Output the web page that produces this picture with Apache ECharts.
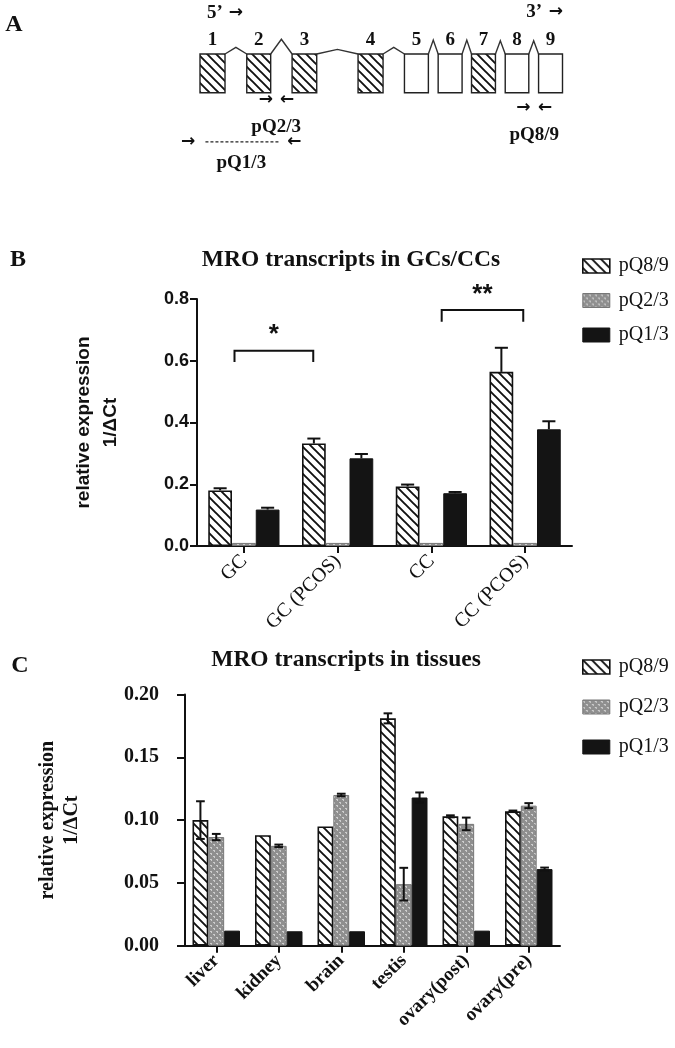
<!DOCTYPE html>
<html><head><meta charset="utf-8">
<script src="https://cdn.jsdelivr.net/npm/echarts@6/dist/echarts.min.js"></script>
<style>html,body{margin:0;padding:0;background:#fff}#c{width:675px;height:1048px}</style>
</head><body><div id="c"></div>
<script>
// ---------- Panel A: gene diagram (diagram units: x 0-100, exon box y 0-10) ----------
const exonNumbers = ['1','2','3','4','5','6','7','8','9'];
const exonStart = [0, 12.9, 25.4, 43.6, 56.4, 65.7, 74.9, 84.2, 93.4];
const exonWidth = [6.9, 6.6, 6.8, 6.9, 6.6, 6.6, 6.6, 6.5, 6.6];
const exonHatched = [1, 1, 1, 1, 0, 0, 1, 0, 0];
const intronPeak = [1.7, 3.8, 1.2, 1.7, 3.6, 3.6, 3.4, 3.4];

// ---------- Panel B ----------
const seriesNames = ['pQ8/9', 'pQ2/3', 'pQ1/3'];
const bCategories = ['GC', 'GC (PCOS)', 'CC', 'CC (PCOS)'];
const bPQ89 = [0.180, 0.332, 0.193, 0.564];
const bPQ23 = [0.010, 0.010, 0.010, 0.010];
const bPQ13 = [0.118, 0.284, 0.171, 0.378];
const bErr89 = [0.007, 0.016, 0.006, 0.078];
const bErr23 = [0, 0, 0, 0];
const bErr13 = [0.006, 0.014, 0.004, 0.026];
const bTicks = [0, 0.2, 0.4, 0.6, 0.8];

// ---------- Panel C ----------
const cCategories = ['liver', 'kidney', 'brain', 'testis', 'ovary(post)', 'ovary(pre)'];
const cPQ89 = [0.100, 0.088, 0.095, 0.181, 0.103, 0.107];
const cPQ23 = [0.0865, 0.0795, 0.120, 0.049, 0.097, 0.1115];
const cPQ13 = [0.012, 0.0115, 0.0115, 0.118, 0.012, 0.061];
const cErr89 = [0.015, 0, 0, 0.004, 0.0008, 0.0006];
const cErr23 = [0.0025, 0.001, 0.001, 0.013, 0.005, 0.002];
const cErr13 = [0, 0, 0, 0.004, 0, 0.0012];
const cTicks = [0, 0.05, 0.10, 0.15, 0.20];

const SERIF = "'Liberation Serif','Times New Roman',serif";
const SANS = "'Liberation Sans',Arial,sans-serif";
const ARROW = "'DejaVu Sans',sans-serif";

function hatchPattern(s, lw) {
  const c = document.createElement('canvas'); c.width = c.height = s;
  const g = c.getContext('2d');
  g.fillStyle = '#fff'; g.fillRect(0, 0, s, s);
  g.strokeStyle = '#111'; g.lineWidth = lw; g.lineCap = 'square';
  g.beginPath();
  for (const o of [-s, 0, s]) { g.moveTo(o - 1, -1); g.lineTo(o + s + 1, s + 1); }
  g.stroke();
  return c;
}
function dotPattern() {
  const s = 6, c = document.createElement('canvas'); c.width = c.height = s;
  const g = c.getContext('2d');
  g.fillStyle = '#8f8f8f'; g.fillRect(0, 0, s, s);
  g.fillStyle = '#cdcdcd';
  g.fillRect(0, 1, 2, 1); g.fillRect(3, 4, 2, 1); g.fillRect(1, 2, 1, 1); g.fillRect(4, 5, 1, 1);
  return c;
}
const hatchImg = hatchPattern(9, 1.9);
const dotImg = dotPattern();
const barStyles = [
  { color: { image: hatchImg, repeat: 'repeat' }, borderColor: '#111', borderWidth: 1.6 },
  { color: { image: dotImg, repeat: 'repeat' }, borderColor: '#777', borderWidth: 1 },
  { color: '#141414', borderColor: '#141414', borderWidth: 1 }
];

function errSeries(axis, vals, errs, k, sym) {
  return {
    type: 'custom', name: 'err' + axis + k, xAxisIndex: axis, yAxisIndex: axis, z: 5, silent: true,
    data: vals.map((v, j) => [j, v, errs[j]]),
    renderItem(params, api) {
      const j = api.value(0), v = api.value(1), e = api.value(2);
      if (!e) return;
      const band = api.size([1, 0])[0];
      const bw = band * 0.76 / 3;
      const cx = api.coord([j, v])[0] + (k - 1) * bw;
      const yTop = api.coord([j, v + e])[1];
      const yBot = sym ? api.coord([j, Math.max(0, v - e)])[1] : api.coord([j, v])[1];
      const cw = bw * 0.55;
      const st = { stroke: '#111', lineWidth: 2 };
      const ch = [
        { type: 'line', shape: { x1: cx, y1: yTop, x2: cx, y2: yBot }, style: st },
        { type: 'line', shape: { x1: cx - cw / 2, y1: yTop, x2: cx + cw / 2, y2: yTop }, style: st }
      ];
      if (sym) ch.push({ type: 'line', shape: { x1: cx - cw / 2, y1: yBot, x2: cx + cw / 2, y2: yBot }, style: st });
      return { type: 'group', children: ch };
    }
  };
}

function barSeries(axis, lists) {
  return lists.map((d, i) => ({
    type: 'bar', name: seriesNames[i], xAxisIndex: axis, yAxisIndex: axis, data: d,
    barGap: '0%', barCategoryGap: '24%', itemStyle: barStyles[i], silent: true
  }));
}

const legendData = seriesNames.map((n, i) => ({ name: n, itemStyle: barStyles[i] }));
function legend(top, gap) {
  return {
    left: 577, top: top, orient: 'vertical', icon: 'rect', itemWidth: 27, itemHeight: 14, itemGap: gap,
    data: legendData, selectedMode: false,
    textStyle: { fontFamily: SERIF, fontSize: 20, color: '#111', padding: [0, 0, 0, 4] }
  };
}

const chart = echarts.init(document.getElementById('c'), null, { renderer: 'canvas', width: 675, height: 1048 });

const axisLine = { show: true, lineStyle: { color: '#111', width: 2 } };
const axisTick = { show: true, length: 7, lineStyle: { color: '#111', width: 2 } };

const option = {
  backgroundColor: '#fff',
  animation: false,
  legend: [legend(251, 14.5), legend(652, 20)],
  grid: [
    { left: 200, width: 362.5, top: 54, height: 38.7 },
    { left: 197, width: 375, top: 299, height: 247 },
    { left: 185, width: 375, top: 694.5, height: 251.2 }
  ],
  xAxis: [
    { gridIndex: 0, type: 'value', min: 0, max: 100, show: false },
    { gridIndex: 1, type: 'category', data: bCategories, axisLine, axisTick: Object.assign({ alignWithLabel: true }, axisTick),
      axisLabel: { rotate: 45, margin: 12, fontFamily: SERIF, fontSize: 20, color: '#111' } },
    { gridIndex: 2, type: 'category', data: cCategories, axisLine, axisTick: Object.assign({ alignWithLabel: true }, axisTick),
      axisLabel: { rotate: 45, margin: 12, fontFamily: SERIF, fontWeight: 'bold', fontSize: 19, color: '#111' } }
  ],
  yAxis: [
    { gridIndex: 0, type: 'value', min: 0, max: 10, show: false },
    { gridIndex: 1, type: 'value', min: bTicks[0], max: bTicks[bTicks.length - 1], interval: 0.2, splitLine: { show: false },
      axisLine, axisTick,
      axisLabel: { margin: 8, fontFamily: SANS, fontWeight: 'bold', fontSize: 18, color: '#111', formatter: v => v.toFixed(1) },
      name: 'relative expression\n1/ΔCt', nameLocation: 'middle', nameRotate: 90, nameGap: 73,
      nameTextStyle: { fontFamily: SANS, fontWeight: 'bold', fontSize: 19, lineHeight: 27, color: '#111', align: 'center' } },
    { gridIndex: 2, type: 'value', min: cTicks[0], max: cTicks[cTicks.length - 1], interval: 0.05, splitLine: { show: false },
      axisLine, axisTick: { show: true, length: 8, lineStyle: { color: '#111', width: 2 } },
      axisLabel: { margin: 26, fontFamily: SERIF, fontWeight: 'bold', fontSize: 20, color: '#111', formatter: v => v.toFixed(2) },
      name: 'relative expression\n1/ΔCt', nameLocation: 'middle', nameRotate: 90, nameGap: 101,
      nameTextStyle: { fontFamily: SERIF, fontWeight: 'bold', fontSize: 20, lineHeight: 24, color: '#111', align: 'center' } }
  ],
  series: [
    // Panel A exons
    {
      type: 'custom', name: 'exons', xAxisIndex: 0, yAxisIndex: 0, silent: true,
      data: exonStart.map((s, i) => [s, exonWidth[i], exonHatched[i], i]),
      renderItem(params, api) {
        const s = api.value(0), w = api.value(1), h = api.value(2), i = api.value(3);
        const p0 = api.coord([s, 10]), p1 = api.coord([s + w, 0]);
        const pt = api.coord([s + w / 2, 13.6]);
        return { type: 'group', children: [
          { type: 'rect', shape: { x: p0[0], y: p0[1], width: p1[0] - p0[0], height: p1[1] - p0[1] },
            style: { fill: h ? { image: hatchImg, repeat: 'repeat' } : '#fff', stroke: '#222', lineWidth: 1.4 } },
          { type: 'text', style: { x: pt[0], y: pt[1], text: exonNumbers[i], align: 'center', verticalAlign: 'middle',
            font: 'bold 19px ' + SERIF, fill: '#111' } }
        ] };
      }
    },
    // Panel A introns
    {
      type: 'custom', name: 'introns', xAxisIndex: 0, yAxisIndex: 0, silent: true,
      data: intronPeak.map((h, i) => [exonStart[i] + exonWidth[i], exonStart[i + 1], h]),
      renderItem(params, api) {
        const a = api.value(0), b = api.value(1), h = api.value(2);
        const p = [api.coord([a, 10]), api.coord([(a + b) / 2, 10 + h]), api.coord([b, 10])];
        return { type: 'polyline', shape: { points: p }, style: { stroke: '#333', lineWidth: 1.4, fill: null } };
      }
    },
    ...barSeries(1, [bPQ89, bPQ23, bPQ13]),
    errSeries(1, bPQ89, bErr89, 0, false),
    errSeries(1, bPQ23, bErr23, 1, false),
    errSeries(1, bPQ13, bErr13, 2, false),
    ...barSeries(2, [cPQ89, cPQ23, cPQ13]),
    errSeries(2, cPQ89, cErr89, 0, true),
    errSeries(2, cPQ23, cErr23, 1, true),
    errSeries(2, cPQ13, cErr13, 2, true)
  ]
};
chart.setOption(option);

// ---------- annotations ----------
const primerArrows = [
  { text: '→', x: 18.2, y: -1.7 }, { text: '←', x: 24.0, y: -1.7 },
  { text: '→', x: 89.2, y: -3.8 }, { text: '←', x: 95.2, y: -3.8 },
  { text: '→', x: -3.3, y: -12.7 }, { text: '←', x: 26.0, y: -12.7 },
  { text: '→', x: 9.9, y: 20.6 }, { text: '→', x: 98.2, y: 20.85 }
];
const primerLabels = [
  { text: 'pQ2/3', x: 21.0, y: -8.8 }, { text: 'pQ8/9', x: 92.2, y: -10.9 }, { text: 'pQ1/3', x: 11.4, y: -18.2 }
];
const endLabels = [{ text: '5’', x: 1.9, y: 20.6 }, { text: '3’', x: 90.0, y: 20.85 }];
const dashed = { x1: 1.5, x2: 21.8, y: -12.7 };
const sigB = [
  { from: 0, fromOff: -0.10, to: 1, toOff: -0.26, y: 0.632, leg: 0.596, label: '*', labelY: 0.685 },
  { from: 2, fromOff: 0.11, to: 3, toOff: -0.02, y: 0.764, leg: 0.726, label: '**', labelY: 0.815 }
];

const A = (x, y) => chart.convertToPixel({ gridIndex: 0 }, [x, y]);
const g = [];
primerArrows.forEach(a => { const p = A(a.x, a.y); g.push({ type: 'text', x: p[0], y: p[1], style: { text: a.text, align: 'center', verticalAlign: 'middle', font: 'bold 17px ' + ARROW, fill: '#111' } }); });
primerLabels.forEach(a => { const p = A(a.x, a.y); g.push({ type: 'text', x: p[0], y: p[1], style: { text: a.text, align: 'center', verticalAlign: 'middle', font: 'bold 19px ' + SERIF, fill: '#111' } }); });
endLabels.forEach(a => { const p = A(a.x, a.y); g.push({ type: 'text', x: p[0], y: p[1], style: { text: a.text, align: 'left', verticalAlign: 'middle', font: 'bold 19px ' + SERIF, fill: '#111' } }); });
{ const p1 = A(dashed.x1, dashed.y), p2 = A(dashed.x2, dashed.y);
  g.push({ type: 'line', shape: { x1: p1[0], y1: p1[1], x2: p2[0], y2: p2[1] }, style: { stroke: '#222', lineWidth: 1.3, lineDash: [3, 2] } }); }

const bandB = 375 / bCategories.length;
sigB.forEach(s => {
  const x1 = chart.convertToPixel({ gridIndex: 1 }, [s.from, s.y])[0] + s.fromOff * bandB;
  const x2 = chart.convertToPixel({ gridIndex: 1 }, [s.to, s.y])[0] + s.toOff * bandB;
  const yT = chart.convertToPixel({ gridIndex: 1 }, [0, s.y])[1];
  const yL = chart.convertToPixel({ gridIndex: 1 }, [0, s.leg])[1];
  const yS = chart.convertToPixel({ gridIndex: 1 }, [0, s.labelY])[1];
  g.push({ type: 'polyline', shape: { points: [[x1, yL], [x1, yT], [x2, yT], [x2, yL]] }, style: { stroke: '#111', lineWidth: 2, fill: null } });
  g.push({ type: 'text', x: (x1 + x2) / 2, y: yS, style: { text: s.label, align: 'center', verticalAlign: 'middle', font: 'bold 26px ' + SANS, fill: '#111' } });
});

const panelTexts = [
  { text: 'A', x: 14, y: 25, font: 'bold 24px ' + SERIF },
  { text: 'B', x: 18, y: 260, font: 'bold 24px ' + SERIF },
  { text: 'C', x: 20, y: 666, font: 'bold 24px ' + SERIF },
  { text: 'MRO transcripts in GCs/CCs', x: 351, y: 260, font: 'bold 23.5px ' + SERIF },
  { text: 'MRO transcripts in tissues', x: 346, y: 660, font: 'bold 23.5px ' + SERIF }
];
panelTexts.forEach(t => g.push({ type: 'text', x: t.x, y: t.y, style: { text: t.text, align: 'center', verticalAlign: 'middle', font: t.font, fill: '#111' } }));

chart.setOption({ graphic: g });
</script>
</body></html>
